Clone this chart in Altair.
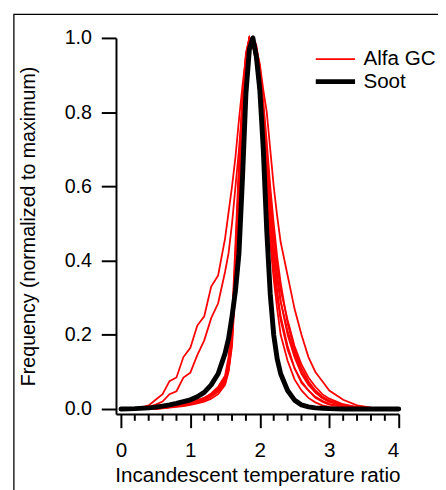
import altair as alt
import pandas as pd

# common x grid (incandescent temperature ratio)
X = [0.0, 0.2, 0.4, 0.5, 0.6, 0.7, 0.8, 0.9, 1.0, 1.1, 1.2, 1.3, 1.4, 1.5, 1.55, 1.6, 1.65, 1.7, 1.75, 1.8,
     1.85, 1.9, 1.95, 2.0, 2.05, 2.1, 2.15, 2.2, 2.25, 2.3, 2.4, 2.5, 2.6, 2.7, 2.8, 2.9, 3.0, 3.2, 3.4, 3.6, 4.0]

# Alfa GC curves (normalized frequency)
alfa_A = [0, 0, 0.01, 0.025, 0.04, 0.075, 0.085, 0.14, 0.165, 0.225, 0.25, 0.33, 0.36, 0.46, 0.53, 0.6, 0.68, 0.78, 0.87, 0.95,
          1.0, 0.98, 0.93, 0.84, 0.72, 0.6, 0.5, 0.42, 0.35, 0.29, 0.21, 0.15, 0.1, 0.07, 0.045, 0.03, 0.02, 0.01, 0.004, 0.001, 0]
alfa_B = [0, 0, 0.005, 0.012, 0.02, 0.04, 0.048, 0.085, 0.098, 0.145, 0.185, 0.245, 0.285, 0.37, 0.42, 0.5, 0.6, 0.7, 0.82, 0.92,
          0.98, 1.0, 0.95, 0.86, 0.75, 0.62, 0.5, 0.4, 0.32, 0.25, 0.17, 0.11, 0.07, 0.05, 0.03, 0.02, 0.012, 0.006, 0.002, 0, 0]
alfa_C = [0, 0, 0, 0.003, 0.005, 0.008, 0.01, 0.014, 0.018, 0.024, 0.03, 0.04, 0.055, 0.085, 0.13, 0.22, 0.42, 0.64, 0.82, 0.94,
          1.0, 0.99, 0.97, 0.93, 0.86, 0.8, 0.7, 0.6, 0.52, 0.45, 0.36, 0.27, 0.2, 0.14, 0.1, 0.075, 0.05, 0.025, 0.01, 0.004, 0]
alfa_D = [0, 0, 0, 0.002, 0.004, 0.006, 0.009, 0.012, 0.016, 0.021, 0.028, 0.038, 0.05, 0.075, 0.11, 0.19, 0.36, 0.6, 0.8, 0.93,
          0.99, 1.0, 0.97, 0.9, 0.8, 0.68, 0.57, 0.47, 0.39, 0.32, 0.24, 0.17, 0.12, 0.085, 0.06, 0.04, 0.028, 0.013, 0.005, 0.002, 0]
alfa_E = [0, 0, 0, 0, 0.002, 0.004, 0.006, 0.008, 0.011, 0.015, 0.02, 0.028, 0.04, 0.065, 0.1, 0.17, 0.33, 0.56, 0.78, 0.92,
          0.99, 1.0, 0.95, 0.85, 0.72, 0.58, 0.45, 0.35, 0.27, 0.2, 0.13, 0.08, 0.05, 0.03, 0.018, 0.01, 0.006, 0.002, 0.001, 0, 0]
alfa_F = [0, 0, 0, 0.003, 0.004, 0.007, 0.01, 0.013, 0.017, 0.022, 0.03, 0.042, 0.06, 0.09, 0.14, 0.24, 0.45, 0.66, 0.84, 0.95,
          1.0, 0.98, 0.94, 0.87, 0.77, 0.65, 0.54, 0.44, 0.36, 0.29, 0.2, 0.14, 0.095, 0.065, 0.045, 0.03, 0.02, 0.009, 0.004, 0.001, 0]
alfa_G = [0, 0, 0, 0.001, 0.003, 0.005, 0.007, 0.01, 0.013, 0.018, 0.024, 0.033, 0.046, 0.07, 0.105, 0.18, 0.38, 0.62, 0.83, 0.96,
          1.0, 0.99, 0.93, 0.83, 0.7, 0.57, 0.46, 0.37, 0.3, 0.24, 0.16, 0.11, 0.075, 0.05, 0.033, 0.022, 0.014, 0.006, 0.002, 0.001, 0]
alfa_H = [0, 0, 0, 0.002, 0.003, 0.005, 0.008, 0.011, 0.015, 0.019, 0.026, 0.036, 0.052, 0.08, 0.12, 0.21, 0.4, 0.63, 0.81, 0.93,
          0.99, 1.0, 0.98, 0.92, 0.83, 0.72, 0.6, 0.5, 0.41, 0.34, 0.23, 0.16, 0.11, 0.075, 0.05, 0.034, 0.023, 0.011, 0.005, 0.002, 0]

# Soot curve
soot = [0, 0.001, 0.003, 0.005, 0.008, 0.011, 0.015, 0.02, 0.025, 0.033, 0.045, 0.065, 0.095, 0.15, 0.19, 0.25, 0.32, 0.42, 0.62, 0.85,
        0.97, 1.0, 0.95, 0.86, 0.7, 0.48, 0.31, 0.2, 0.135, 0.095, 0.05, 0.024, 0.011, 0.006, 0.003, 0.002, 0.001, 0, 0, 0, 0]

x_ticks = [0, 1, 2, 3, 4]
x_minor = [0.2, 0.4, 0.6, 0.8, 1.2, 1.4, 1.6, 1.8, 2.2, 2.4, 2.6, 2.8, 3.2, 3.4, 3.6, 3.8]
y_ticks = [0, 0.2, 0.4, 0.6, 0.8, 1.0]

alfa = {"A": alfa_A, "B": alfa_B, "C": alfa_C, "D": alfa_D,
        "E": alfa_E, "F": alfa_F, "G": alfa_G, "H": alfa_H}

rows = []
for name, ys in alfa.items():
    for x, y in zip(X, ys):
        rows.append({"x": x, "y": y, "curve": name, "type": "Alfa GC"})
red_df = pd.DataFrame(rows)
soot_df = pd.DataFrame({"x": X, "y": soot, "curve": "S", "type": "Soot"})

FONT = "Liberation Sans"
AXIS_Y = 383          # x axis line (pixels from the plot top)
MAJOR, MINOR = 14, 7  # tick lengths
PLOT_W, PLOT_H = 288, AXIS_Y + MAJOR   # plot area reaches the end of the major ticks
color_scale = alt.Scale(domain=["Alfa GC", "Soot"], range=["#ff0000", "#000000"])
width_scale = alt.Scale(domain=["Alfa GC", "Soot"], range=[1.8, 5])

legend = alt.Legend(title=None, orient="none", legendX=201, legendY=10,
                    symbolType="stroke", symbolSize=1600, labelFontSize=21,
                    labelFont=FONT, labelColor="black", labelOffset=6,
                    rowPadding=0, clipHeight=23)

x_scale = alt.Scale(domain=[-0.0707, 4], nice=False, zero=False)
y_scale = alt.Scale(domain=[-0.0132, 1], range=[AXIS_Y, 0], nice=False, zero=False)
x_main = alt.X("x:Q", scale=x_scale,
               axis=alt.Axis(values=x_ticks, format="d", tickSize=MAJOR, offset=-MAJOR,
                             title="Incandescent temperature ratio", titlePadding=5,
                             labelPadding=12, labelFontSize=21, titleFontSize=21, grid=False))
y_main = alt.Y("y:Q", scale=y_scale,
               axis=alt.Axis(values=y_ticks, format=".1f", tickSize=15, offset=0,
                             title="Frequency (normalized to maximum)", titlePadding=26,
                             labelPadding=10, labelFontSize=20, titleFontSize=20, grid=False))

red = alt.Chart(red_df).mark_line().encode(
    x=x_main,
    y=y_main,
    detail="curve:N",
    color=alt.Color("type:N", scale=color_scale, legend=legend),
    strokeWidth=alt.StrokeWidth("type:N", scale=width_scale, legend=legend),
)

black = alt.Chart(soot_df).mark_line(strokeCap="round", strokeJoin="round").encode(
    x="x:Q",
    y="y:Q",
    color=alt.Color("type:N", scale=color_scale, legend=legend),
    strokeWidth=alt.StrokeWidth("type:N", scale=width_scale, legend=legend),
)

# minor tick marks hanging from the x axis line (inside the extended plot area)
minor = alt.Chart(alt.Data(values=[{"xm": v} for v in x_minor])).mark_rule(
    color="black", strokeWidth=2
).encode(
    x=alt.X("xm:Q"),
    y=alt.value(AXIS_Y),
    y2=alt.value(AXIS_Y + MINOR),
)

frame = alt.Chart(alt.Data(values=[{"a": 1}])).mark_rect(
    fill="transparent", stroke="black", strokeWidth=1.3
).encode(x=alt.value(-104), x2=alt.value(700), y=alt.value(-24), y2=alt.value(700))

chart = alt.layer(frame, red, black, minor).properties(
    width=PLOT_W, height=PLOT_H,
    autosize=alt.AutoSizeParams(type="none"),
    padding={"left": 110, "top": 26, "right": 40, "bottom": 59},
).configure_view(stroke=None).configure_axis(
    labelFont=FONT, titleFont=FONT,
    titleFontWeight="normal", labelColor="black", titleColor="black",
    domainColor="black", tickColor="black", domainWidth=2, tickWidth=2,
)

chart.save("out.html", embed_options={"renderer": "svg", "actions": False})
